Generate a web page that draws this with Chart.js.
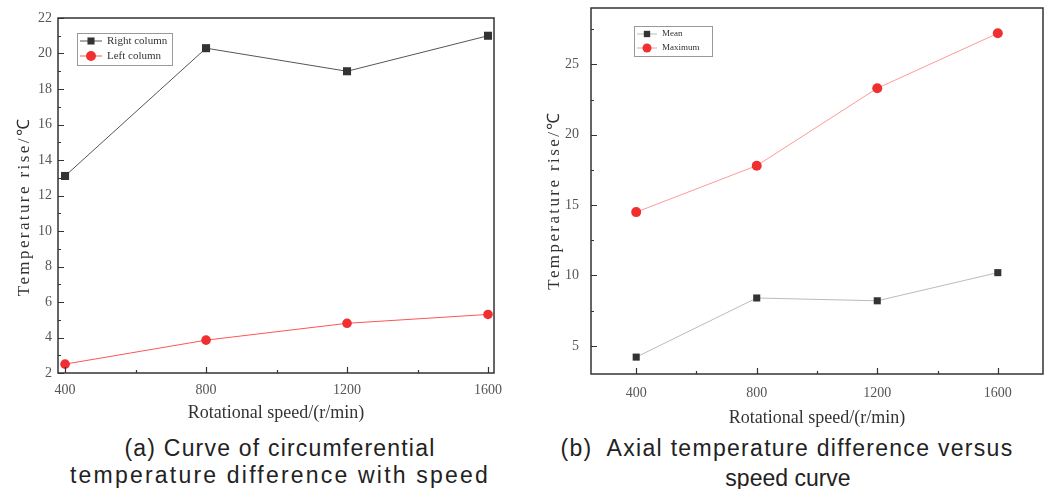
<!DOCTYPE html>
<html>
<head>
<meta charset="utf-8">
<script src="https://cdn.jsdelivr.net/npm/chart.js@4.4.0/dist/chart.umd.min.js"></script>
<style>
  html, body { margin: 0; padding: 0; background: #fff; }
  body { width: 1048px; height: 489px; position: relative; overflow: hidden; }
  .panel { position: absolute; top: 0; height: 430px; }
  #panelA { left: 0; width: 510px; }
  #panelB { left: 530px; width: 518px; }
  .cap { position: absolute; color: #222; font-family: "Liberation Sans", Arial, sans-serif;
         font-size: 23px; line-height: 26px; text-align: center; white-space: nowrap; }
</style>
</head>
<body>
<div class="panel" id="panelA"><canvas id="chartA"></canvas></div>
<div class="panel" id="panelB"><canvas id="chartB"></canvas></div>
<div class="cap" style="left:0;width:560px;top:435px;letter-spacing:1.2px;">(a) Curve of circumferential</div>
<div class="cap" style="left:0;width:560px;top:462px;letter-spacing:2.2px;">temperature difference with speed</div>
<div class="cap" style="left:530px;width:514px;top:435px;letter-spacing:1.3px;">(b)&nbsp; Axial temperature difference versus</div>
<div class="cap" style="left:530px;width:516px;top:465px;">speed curve</div>
<script>
// Rotational speed (r/min)
const speeds = [400, 800, 1200, 1600];
// (a) circumferential temperature difference, °C
const rightColumn = [13.1, 20.3, 19.0, 21.0];
const leftColumn = [2.5, 3.85, 4.8, 5.3];
// (b) axial temperature difference, °C
const meanRise = [4.2, 8.4, 8.2, 10.2];
const maxRise = [14.5, 17.8, 23.3, 27.2];

// Axis ticks
const xTicks = [400, 800, 1200, 1600];
const xMinor = [600, 1000, 1400];
const yTicksA = [2, 4, 6, 8, 10, 12, 14, 16, 18, 20, 22];
const yMinorA = [3, 5, 7, 9, 11, 13, 15, 17, 19, 21];
const yTicksB = [5, 10, 15, 20, 25];
const yMinorB = [7.5, 12.5, 17.5, 22.5, 27.5];

const SERIF = '"Liberation Serif", "Times New Roman", serif';

// Closed frame around the plot area with inward major/minor ticks
const framePlugin = {
  id: 'frameTicks',
  afterDatasetsDraw(chart, args, opts) {
    const { ctx, chartArea: a, scales } = chart;
    ctx.save();
    ctx.strokeStyle = '#333';
    ctx.lineWidth = 1.5;
    ctx.strokeRect(a.left, a.top, a.right - a.left, a.bottom - a.top);
    ctx.lineWidth = 1.2;
    ctx.beginPath();
    const xt = (vals, len) => vals.forEach(v => {
      const px = Math.round(scales.x.getPixelForValue(v)) + 0.5;
      ctx.moveTo(px, a.bottom); ctx.lineTo(px, a.bottom - len);
    });
    const yt = (vals, len) => vals.forEach(v => {
      const py = Math.round(scales.y.getPixelForValue(v)) + 0.5;
      ctx.moveTo(a.left, py); ctx.lineTo(a.left + len, py);
    });
    xt(opts.xMajor, 6); xt(opts.xMinor, 3);
    yt(opts.yMajor, 6); yt(opts.yMinor, 3);
    ctx.stroke();
    ctx.restore();
  }
};

// Rotated, letter-spaced title for the vertical axis
const yTitlePlugin = {
  id: 'yTitle',
  afterDraw(chart, args, o) {
    const { ctx, chartArea: a } = chart;
    ctx.save();
    ctx.translate(o.x, (a.top + a.bottom) / 2 + o.dy);
    ctx.rotate(-Math.PI / 2);
    ctx.font = o.font;
    ctx.letterSpacing = o.spacing;
    ctx.fillStyle = '#333';
    ctx.textAlign = 'center';
    ctx.textBaseline = 'middle';
    ctx.fillText(o.text, 0, 0);
    ctx.restore();
  }
};

// Boxed legend drawn inside the plot area
const boxLegendPlugin = {
  id: 'boxLegend',
  afterDraw(chart, args, o) {
    const { ctx, chartArea: a } = chart;
    const x = a.left + o.x, y = a.top + o.y;
    ctx.save();
    ctx.fillStyle = '#fff';
    ctx.fillRect(x, y, o.w, o.h);
    ctx.strokeStyle = '#999';
    ctx.lineWidth = 1;
    ctx.strokeRect(x + 0.5, y + 0.5, o.w, o.h);
    chart.data.datasets.forEach((ds, i) => {
      const cy = y + o.firstRow + i * o.rowGap;
      ctx.strokeStyle = ds.borderColor;
      ctx.lineWidth = 1;
      ctx.beginPath();
      ctx.moveTo(x + 3, cy); ctx.lineTo(x + 3 + o.lineLen, cy);
      ctx.stroke();
      ctx.fillStyle = ds.pointBackgroundColor;
      ctx.strokeStyle = ds.pointBackgroundColor;
      Chart.helpers.drawPoint(ctx, { pointStyle: ds.pointStyle, radius: o.markerR, rotation: 0, borderWidth: 0 },
        x + 3 + o.lineLen / 2, cy);
      ctx.fillStyle = '#333';
      ctx.font = o.font;
      ctx.textBaseline = 'middle';
      ctx.fillText(ds.label, x + 3 + o.lineLen + 5, cy);
    });
    ctx.restore();
  }
};

function makeChart(id, cfg) {
  return new Chart(document.getElementById(id), {
    type: 'line',
    data: {
      datasets: cfg.series.map(s => ({
        label: s.label,
        data: speeds.map((v, i) => ({ x: v, y: s.values[i] })),
        borderColor: s.line,
        borderWidth: 1,
        pointStyle: s.style,
        pointRadius: s.r,
        pointBackgroundColor: s.marker,
        pointBorderColor: s.marker,
        pointBorderWidth: 0,
        tension: 0
      }))
    },
    options: {
      responsive: true,
      maintainAspectRatio: false,
      animation: false,
      layout: { padding: cfg.padding },
      plugins: {
        legend: { display: false },
        tooltip: { enabled: false },
        frameTicks: { xMajor: xTicks, xMinor: xMinor, yMajor: cfg.yTicks, yMinor: cfg.yMinor },
        yTitle: { text: 'Temperature rise/℃', font: '17px ' + SERIF, spacing: '2.4px', x: 25, dy: cfg.yTitleDy },
        boxLegend: cfg.legend
      },
      scales: {
        x: {
          type: 'linear',
          min: cfg.xMin, max: cfg.xMax,
          afterBuildTicks: s => { s.ticks = xTicks.map(v => ({ value: v })); },
          afterFit: s => { s.height = cfg.xAxisH; s.paddingLeft = 0; s.paddingRight = 0; },
          grid: { display: false, drawTicks: false },
          border: { display: false },
          ticks: { font: { family: SERIF, size: 14 }, color: '#555', padding: cfg.xTickPad, maxRotation: 0,
                   callback: v => String(v) },
          title: { display: true, text: 'Rotational speed/(r/min)', color: '#333',
                   font: { family: SERIF, size: 18, lineHeight: 1 }, padding: { top: 0, bottom: cfg.xTitlePad } }
        },
        y: {
          type: 'linear',
          min: cfg.yMin, max: cfg.yMax,
          afterBuildTicks: s => { s.ticks = cfg.yTicks.map(v => ({ value: v })); },
          afterFit: s => { s.width = cfg.yAxisW; s.paddingTop = 0; s.paddingBottom = 0; },
          grid: { display: false, drawTicks: false },
          border: { display: false },
          ticks: { font: { family: SERIF, size: 14 }, color: '#555', padding: cfg.yTickPad,
                   callback: v => String(v) },
          title: { display: false }
        }
      }
    },
    plugins: [framePlugin, yTitlePlugin, boxLegendPlugin]
  });
}

makeChart('chartA', {
  series: [
    { label: 'Right column', values: rightColumn, line: '#555', marker: '#333', style: 'rect', r: 5.7 },
    { label: 'Left column', values: leftColumn, line: '#f55', marker: '#f03030', style: 'circle', r: 4.8 }
  ],
  padding: { left: 0, top: 18, right: 16, bottom: 0 },
  xMin: 380, xMax: 1617, yMin: 2, yMax: 22,
  yTicks: yTicksA, yMinor: yMinorA,
  yAxisW: 58, xAxisH: 57,
  xTickPad: 9, yTickPad: 6, xTitlePad: 8, yTitleDy: 11,
  legend: { x: 19, y: 15, w: 95, h: 32, firstRow: 8, rowGap: 15, lineLen: 22, markerR: 5,
            font: '11px ' + SERIF }
});

makeChart('chartB', {
  series: [
    { label: 'Mean', values: meanRise, line: '#bbb', marker: '#333', style: 'rect', r: 5 },
    { label: 'Maximum', values: maxRise, line: '#f99', marker: '#f03030', style: 'circle', r: 5 }
  ],
  padding: { left: 0, top: 8, right: 1, bottom: 0 },
  xMin: 250, xMax: 1750, yMin: 3, yMax: 29,
  yTicks: yTicksB, yMinor: yMinorB,
  yAxisW: 61, xAxisH: 56,
  xTickPad: 11, yTickPad: 12, xTitlePad: 3, yTitleDy: 9,
  legend: { x: 43, y: 18, w: 78, h: 30, firstRow: 8, rowGap: 14, lineLen: 20, markerR: 4.5,
            font: '9px ' + SERIF }
});
</script>
</body>
</html>
